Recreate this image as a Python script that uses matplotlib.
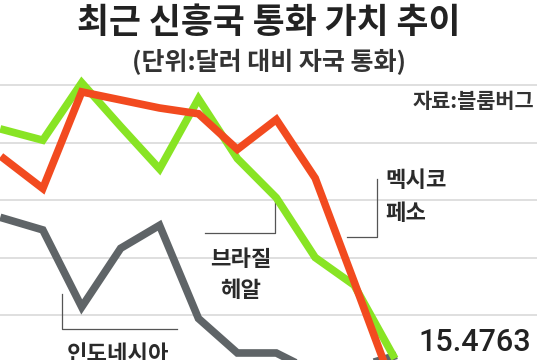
import numpy as np
import matplotlib
matplotlib.use("Agg")
import matplotlib.pyplot as plt

plt.rcParams['font.family'] = ['Noto Sans CJK KR', 'DejaVu Sans']

# DATA (relative index; no axis labels in the original)
months = np.arange(11)
brazil = [96.1, 95.2, 100.2, 96.4, 92.7, 98.8, 93.6, 90.2, 85.0, 82.6, 76.5]
mexico = [93.6, 91.0, 99.4, 98.7, 98.0, 97.5, 94.4, 97.0, 91.9, 82.9, 73.8]
indonesia = [88.4, 87.4, 80.7, 85.8, 87.8, 79.7, 76.7, 76.7, 75.0, 75.4, 76.4]
grid_levels = [100, 95, 90, 85, 80]
last_value = "15.4763"

title = "최근 신흥국 통화 가치 추이"
subtitle = "(단위:달러 대비 자국 통화)"
source = "자료:블룸버그"

# COLORS
c_green = "#88e424"
c_red = "#f24a1f"
c_gray = "#5f6467"
c_grid = "#dcdcdc"

fig = plt.figure(figsize=(5.37, 3.6), dpi=100)
fig.patch.set_facecolor("white")
ax = fig.add_axes([0, 0, 1, 1])
ax.set_xlim(-0.10, 13.70)
ax.set_ylim(76.09, 107.39)
ax.axis("off")

for g in grid_levels:
    ax.axhline(g, color=c_grid, lw=1.3, zorder=1)

ax.plot(months, indonesia, color=c_gray, lw=5.5, solid_joinstyle="miter", zorder=3)
ax.plot(months, brazil, color=c_green, lw=5.5, solid_joinstyle="miter", zorder=4)
ax.plot(months, mexico, color=c_red, lw=5.5, solid_joinstyle="miter", zorder=5)

# LEADER LINES
lc = "#555555"
ax.plot([6.97, 6.97, 5.17], [90.1, 87.1, 87.1], color=lc, lw=0.9, zorder=2)
ax.plot([9.59, 9.59, 8.82], [91.8, 86.8, 86.8], color=lc, lw=0.9, zorder=2)
ax.plot([1.49, 1.49, 4.45], [81.8, 78.8, 78.8], color=lc, lw=0.9, zorder=2)

# LABELS
lab = dict(fontsize=16, color="#2a2a2a", fontweight="bold", zorder=6)
ax.text(6.09, 84.8, "브라질", ha="center", va="center", **lab)
ax.text(6.09, 82.1, "헤알", ha="center", va="center", **lab)
ax.text(9.80, 91.7, "멕시코", ha="left", va="center", **lab)
ax.text(9.80, 88.8, "페소", ha="left", va="center", **lab)
ax.text(2.92, 76.6, "인도네시아", ha="center", va="center", **lab)

ax.text(13.55, 77.65, last_value, ha="right", va="center", fontsize=22,
        color="#222222", fontweight="medium", family=["Roboto", "DejaVu Sans"], zorder=6)

fig.text(0.5, 1 - 22 / 360, title, ha="center", va="center", fontsize=25,
         fontweight="bold", color="#222222")
fig.text(0.5, 1 - 62 / 360, subtitle, ha="center", va="center", fontsize=18,
         fontweight="bold", color="#333333")
fig.text(0.995, 1 - 102 / 360, source, ha="right", va="center", fontsize=15,
         fontweight="bold", color="#333333")

fig.savefig("out.png", dpi=100, facecolor="white")
